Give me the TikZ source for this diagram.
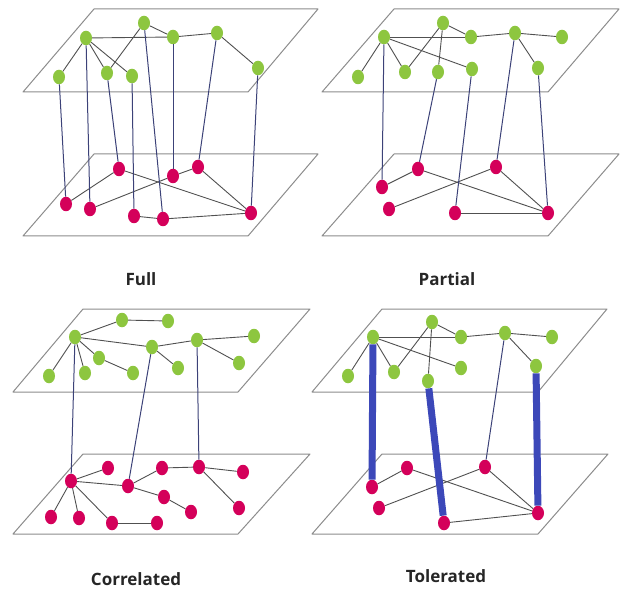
\documentclass[tikz,border=0pt]{standalone}
\usepackage{fontspec}
\setmainfont{Open Sans}
\usetikzlibrary{shapes.geometric}
\definecolor{gn}{RGB}{141,198,63}
\definecolor{rd}{RGB}{212,0,90}
\definecolor{pl}{RGB}{140,140,140}
\definecolor{ed}{RGB}{80,80,80}
\definecolor{ln}{RGB}{60,66,120}
\definecolor{tk}{RGB}{60,72,185}
\tikzset{
 gnode/.style={ellipse, fill=gn, minimum width=12pt, minimum height=14.5pt, inner sep=0pt},
 rnode/.style={ellipse, fill=rd, minimum width=12pt, minimum height=14.5pt, inner sep=0pt},
 plane/.style={draw=pl, line width=1pt, line join=round},
 intra/.style={draw=ed, line width=0.9pt},
 inter/.style={draw=ln, line width=1pt},
 thicklink/.style={draw=tk, line width=7pt},
 lab/.style={font=\bfseries\fontsize{17}{20}\selectfont, text=black!85, anchor=base, inner sep=0pt}
}
\begin{document}
\begin{tikzpicture}[x=1pt,y=-1pt]
\useasboundingbox (0,0) rectangle (622,591);
% planes
\draw[plane] (94,9) -- (318,9) -- (248,92) -- (23,92) -- cycle;
\draw[plane] (94,154) -- (318,154) -- (248,236) -- (23,236) -- cycle;
\draw[plane] (394,9) -- (619,9) -- (548,92) -- (322,92) -- cycle;
\draw[plane] (394,154) -- (619,154) -- (548,236) -- (322,236) -- cycle;
\draw[plane] (83,309) -- (310,309) -- (238,392) -- (13,392) -- cycle;
\draw[plane] (83,454) -- (310,454) -- (238,534) -- (13,534) -- cycle;
\draw[plane] (382,309) -- (607,309) -- (538,392) -- (312,392) -- cycle;
\draw[plane] (382,454) -- (608,454) -- (538,534) -- (312,534) -- cycle;

% ---------- Full ----------
\node[gnode] (fa1) at (144,23) {};
\node[gnode] (fa2) at (86,38) {};
\node[gnode] (fa3) at (173,37) {};
\node[gnode] (fa4) at (217,33) {};
\node[gnode] (fa5) at (258,68) {};
\node[gnode] (fa6) at (59,77) {};
\node[gnode] (fa7) at (107,73) {};
\node[gnode] (fa8) at (132,76) {};
\node[rnode] (fr1) at (66,204) {};
\node[rnode] (fr2) at (90,209) {};
\node[rnode] (fr3) at (119,169) {};
\node[rnode] (fr4) at (134,216) {};
\node[rnode] (fr5) at (163,219) {};
\node[rnode] (fr6) at (173,176) {};
\node[rnode] (fr7) at (198,167) {};
\node[rnode] (fr8) at (251,213) {};
\draw[intra] (fa1) -- (fa3);
\draw[intra] (fa2) -- (fa3);
\draw[intra] (fa3) -- (fa4);
\draw[intra] (fa4) -- (fa5);
\draw[intra] (fa2) -- (fa6);
\draw[intra] (fa2) -- (fa7);
\draw[intra] (fa2) -- (fa8);
\draw[intra] (fa1) -- (fa7);
\draw[intra] (fr1) -- (fr3);
\draw[intra] (fr2) -- (fr6);
\draw[intra] (fr6) -- (fr7);
\draw[intra] (fr3) -- (fr8);
\draw[intra] (fr7) -- (fr8);
\draw[intra] (fr4) -- (fr5);
\draw[intra] (fr5) -- (fr8);
\draw[inter] (fa6) -- (fr1);
\draw[inter] (fa2) -- (fr2);
\draw[inter] (fa7) -- (fr3);
\draw[inter] (fa8) -- (fr4);
\draw[inter] (fa1) -- (fr5);
\draw[inter] (fa3) -- (fr6);
\draw[inter] (fa4) -- (fr7);
\draw[inter] (fa5) -- (fr8);
\node[lab] (lfull) at (141,285) {Full};

% ---------- Partial ----------
\node[gnode] (pa) at (443,23) {};
\node[gnode] (pb) at (384,37) {};
\node[gnode] (pc) at (471,37) {};
\node[gnode] (pd) at (515,33) {};
\node[gnode] (pe) at (562,37) {};
\node[gnode] (pf) at (358,77) {};
\node[gnode] (pg) at (405,72) {};
\node[gnode] (ph) at (438,72) {};
\node[gnode] (pi) at (472,69) {};
\node[gnode] (pj) at (538,68) {};
\node[rnode] (pp) at (382,187) {};
\node[rnode] (pq) at (418,169) {};
\node[rnode] (ps) at (389,209) {};
\node[rnode] (pt) at (455,213) {};
\node[rnode] (pu) at (496,167) {};
\node[rnode] (pv) at (548,213) {};
\draw[intra] (pa) -- (pc);
\draw[intra] (pb) -- (pc);
\draw[intra] (pc) -- (pd);
\draw[intra] (pd) -- (pe);
\draw[intra] (pb) -- (pf);
\draw[intra] (pb) -- (pg);
\draw[intra] (pb) -- (pi);
\draw[intra] (pa) -- (pg);
\draw[intra] (pa) -- (ph);
\draw[intra] (pd) -- (pj);
\draw[intra] (pp) -- (pq);
\draw[intra] (pq) -- (pv);
\draw[intra] (ps) -- (pu);
\draw[intra] (pu) -- (pv);
\draw[intra] (pt) -- (pv);
\draw[inter] (pb) -- (pp);
\draw[inter] (ph) -- (pq);
\draw[inter] (pi) -- (pt);
\draw[inter] (pd) -- (pu);
\draw[inter] (pj) -- (pv);
\node[lab] (lpartial) at (447,285) {Partial};

% ---------- Correlated ----------
\node[gnode] (ca) at (122,320) {};
\node[gnode] (cb) at (168,321) {};
\node[gnode] (cc) at (75,337) {};
\node[gnode] (cd) at (152,347) {};
\node[gnode] (ce) at (197,340) {};
\node[gnode] (cf) at (254,336) {};
\node[gnode] (cg) at (99,358) {};
\node[gnode] (ch) at (85,373) {};
\node[gnode] (ci) at (49,376) {};
\node[gnode] (cj) at (133,373) {};
\node[gnode] (ck) at (178,368) {};
\node[gnode] (cl) at (239,363) {};
\node[rnode] (cr1) at (71,481) {};
\node[rnode] (cr2) at (108,468) {};
\node[rnode] (cr3) at (128,486) {};
\node[rnode] (cr4) at (162,468) {};
\node[rnode] (cr5) at (199,467) {};
\node[rnode] (cr6) at (243,472) {};
\node[rnode] (cr7) at (164,497) {};
\node[rnode] (cr8) at (191,512) {};
\node[rnode] (cr9) at (239,508) {};
\node[rnode] (cr10) at (51,517) {};
\node[rnode] (cr11) at (79,518) {};
\node[rnode] (cr12) at (112,523) {};
\node[rnode] (cr13) at (157,523) {};
\draw[intra] (cc) -- (ca);
\draw[intra] (ca) -- (cb);
\draw[intra] (cc) -- (cd);
\draw[intra] (cd) -- (ce);
\draw[intra] (ce) -- (cf);
\draw[intra] (cc) -- (ci);
\draw[intra] (cc) -- (ch);
\draw[intra] (cc) -- (cg);
\draw[intra] (cg) -- (cj);
\draw[intra] (cd) -- (ck);
\draw[intra] (ce) -- (cl);
\draw[intra] (cr1) -- (cr2);
\draw[intra] (cr1) -- (cr3);
\draw[intra] (cr1) -- (cr10);
\draw[intra] (cr1) -- (cr11);
\draw[intra] (cr1) -- (cr12);
\draw[intra] (cr3) -- (cr4);
\draw[intra] (cr4) -- (cr5);
\draw[intra] (cr5) -- (cr6);
\draw[intra] (cr5) -- (cr9);
\draw[intra] (cr3) -- (cr7);
\draw[intra] (cr7) -- (cr8);
\draw[intra] (cr12) -- (cr13);
\draw[inter] (cc) -- (cr1);
\draw[inter] (cd) -- (cr3);
\draw[inter] (ce) -- (cr5);
\node[lab] (lcorr) at (136,585) {Correlated};

% ---------- Tolerated ----------
\node[gnode] (ta) at (432,322) {};
\node[gnode] (tb) at (373,337) {};
\node[gnode] (tc) at (461,337) {};
\node[gnode] (td) at (505,333) {};
\node[gnode] (te) at (552,337) {};
\node[gnode] (tf) at (348,376) {};
\node[gnode] (tg) at (394,372) {};
\node[gnode] (th) at (428,381) {};
\node[gnode] (ti) at (461,368) {};
\node[gnode] (tj) at (536,366) {};
\node[rnode] (tp) at (372,487) {};
\node[rnode] (tq) at (407,468) {};
\node[rnode] (ts) at (379,508) {};
\node[rnode] (tt) at (444,523) {};
\node[rnode] (tu) at (485,467) {};
\node[rnode] (tv) at (538,513) {};
\draw[intra] (ta) -- (tc);
\draw[intra] (tb) -- (tc);
\draw[intra] (tc) -- (td);
\draw[intra] (td) -- (te);
\draw[intra] (tb) -- (tf);
\draw[intra] (tb) -- (tg);
\draw[intra] (tb) -- (ti);
\draw[intra] (ta) -- (tg);
\draw[intra] (ta) -- (th);
\draw[intra] (td) -- (tj);
\draw[intra] (tp) -- (tq);
\draw[intra] (tq) -- (tv);
\draw[intra] (ts) -- (tu);
\draw[intra] (tu) -- (tv);
\draw[intra] (tt) -- (tv);
\draw[thicklink] (tb) -- (tp);
\draw[thicklink] (th) -- (tt);
\draw[thicklink] (tj) -- (tv);
\draw[inter] (td) -- (tu);
\node[lab] (ltol) at (446,582) {Tolerated};
\end{tikzpicture}
\end{document}
